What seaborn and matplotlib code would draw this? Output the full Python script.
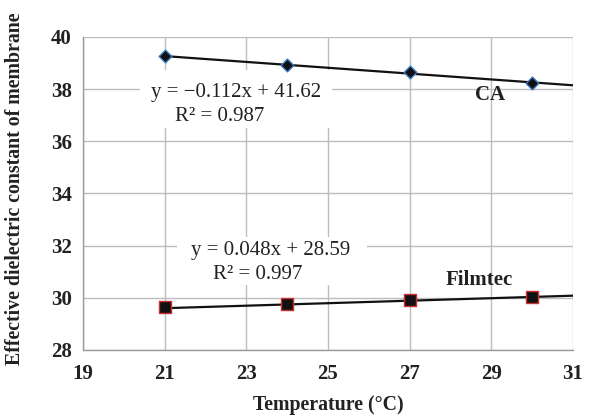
import numpy as np
import pandas as pd
import matplotlib
matplotlib.use("Agg")
import matplotlib.pyplot as plt
from matplotlib.patches import Rectangle
import seaborn as sns

temps = [21, 24, 27, 30]
ca_vals = [39.26, 38.93, 38.66, 38.24]
filmtec_vals = [29.63, 29.77, 29.92, 30.04]
ca_fit = (-0.112, 41.62)
filmtec_fit = (0.048, 28.59)
x_ticks = [19, 21, 23, 25, 27, 29, 31]
y_ticks = [28, 30, 32, 34, 36, 38, 40]

sns.set_theme(style="white")
plt.rcParams['font.family'] = ['Liberation Serif', 'DejaVu Serif']

fig = plt.figure(figsize=(6.14, 4.18), dpi=100)
ax = fig.add_axes([0.135, 0.163, 0.798, 0.7485])

xfit = np.array([21, 31])
df_fit = pd.DataFrame({
    "x": np.concatenate([xfit, xfit]),
    "y": np.concatenate([ca_fit[0] * xfit + ca_fit[1], filmtec_fit[0] * xfit + filmtec_fit[1]]),
    "s": ["CA", "CA", "Filmtec", "Filmtec"],
})
sns.lineplot(data=df_fit, x="x", y="y", units="s", estimator=None, color="#111111",
             linewidth=1.6, ax=ax, legend=False, zorder=3)

df_ca = pd.DataFrame({"x": temps, "y": ca_vals})
df_fm = pd.DataFrame({"x": temps, "y": filmtec_vals})
sns.scatterplot(data=df_ca, x="x", y="y", marker="D", s=42, color="#111111",
                edgecolor="#3a78c0", linewidth=1.0, ax=ax, zorder=4)
sns.scatterplot(data=df_fm, x="x", y="y", marker="s", s=66, color="#111111",
                edgecolor="#d03030", linewidth=1.0, ax=ax, zorder=4)

ax.set_xlim(19, 31)
ax.set_ylim(28, 40)
ax.set_xticks(x_ticks)
ax.set_yticks(y_ticks)
ax.grid(True, color="#bdbdbd", linewidth=1.0)
ax.set_axisbelow(True)
for sp in ax.spines.values():
    sp.set_visible(False)
for sp in ["left", "bottom"]:
    ax.spines[sp].set_visible(True)
    ax.spines[sp].set_color("#9a9a9a")
    ax.spines[sp].set_linewidth(1.0)
ax.tick_params(axis="both", direction="out", length=4, width=1, color="#9a9a9a",
               labelsize=15, labelcolor="#222222")
ax.tick_params(axis="y", pad=4)
ax.tick_params(axis="x", pad=6)
for lab in ax.get_xticklabels() + ax.get_yticklabels():
    lab.set_fontweight("bold")

ax.set_xlabel("Temperature (°C)", fontsize=14.3, fontweight="bold", color="#222222")
ax.xaxis.set_label_coords(0.5, -0.193)
ax.xaxis.label.set_verticalalignment("baseline")
ax.set_ylabel("Effective dielectric constant of membrane", fontsize=14.3, fontweight="bold",
              color="#222222")
ax.yaxis.set_label_coords(-0.1388, 0.515)
ax.yaxis.label.set_verticalalignment("center")

# white label boxes behind the trendline equations
ax.add_patch(Rectangle((20.40, 36.51), 25.10 - 20.40, 38.735 - 36.51, facecolor="white",
                       edgecolor="none", zorder=2))
ax.add_patch(Rectangle((21.30, 30.49), 25.955 - 21.30, 32.33 - 30.49, facecolor="white",
                       edgecolor="none", zorder=2))

tc = "#222222"
ax.text(22.74, 37.70, "y = \u22120.112x + 41.62", fontsize=15, ha="center", va="baseline",
        color=tc, zorder=5)
ax.text(22.36, 36.78, "R\u00b2 = 0.987", fontsize=15, ha="center", va="baseline",
        color=tc, zorder=5)
ax.text(23.59, 31.64, "y = 0.048x + 28.59", fontsize=15, ha="center", va="baseline",
        color=tc, zorder=5)
ax.text(23.29, 30.72, "R\u00b2 = 0.997", fontsize=15, ha="center", va="baseline",
        color=tc, zorder=5)
ax.text(28.97, 37.58, "CA", fontsize=15, fontweight="bold", ha="center", va="baseline",
        color=tc, zorder=5)
ax.text(28.70, 30.49, "Filmtec", fontsize=15, fontweight="bold", ha="center", va="baseline",
        color=tc, zorder=5)

fig.savefig("out.png", dpi=100)
